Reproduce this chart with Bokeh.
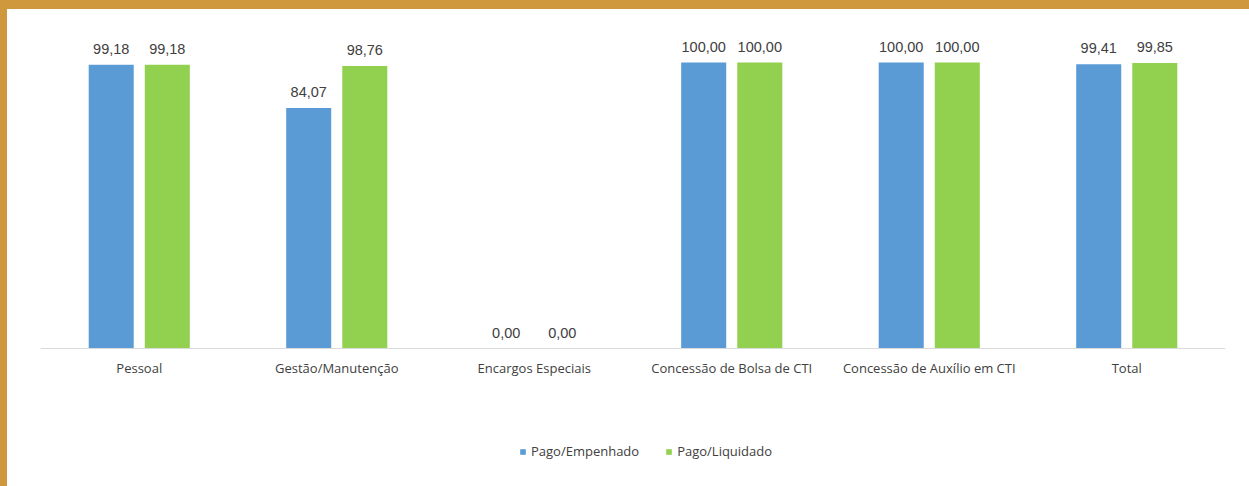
from bokeh.plotting import figure
from bokeh.models import (ColumnDataSource, FactorRange, Legend, LegendItem,
                          GlobalInlineStyleSheet, Span)
from bokeh.transform import dodge
from bokeh.core.properties import value
from bokeh.embed import file_html
from bokeh.resources import INLINE

categories = ["Pessoal", "Gestão/Manutenção", "Encargos Especiais",
              "Concessão de Bolsa de CTI", "Concessão de Auxílio em CTI", "Total"]
pago_empenhado = [99.18, 84.07, 0.00, 100.00, 100.00, 99.41]
pago_liquidado = [99.18, 98.76, 0.00, 100.00, 100.00, 99.85]
series_names = ["Pago/Empenhado", "Pago/Liquidado"]

def fmt(v):
    return f"{v:.2f}".replace(".", ",")

src = ColumnDataSource(dict(
    cat=categories,
    zero=[0] * len(categories),
    emp=pago_empenhado,
    liq=pago_liquidado,
    emp_lbl=[fmt(v) for v in pago_empenhado],
    liq_lbl=[fmt(v) for v in pago_liquidado],
))

BLUE = "#5B9BD5"
GREEN = "#92D050"
TXT = "#404040"
FRAME = "#CF983D"

# the frame extends below the zero line so the category labels and the legend live inside it
p = figure(width=1242, height=477, x_range=FactorRange(*categories), y_range=(-48.25, 110.14),
           output_backend="svg", toolbar_location=None,
           min_border_left=33, min_border_right=24, min_border_top=24, min_border_bottom=0)
p.stylesheets = [GlobalInlineStyleSheet(css=f"""
html, body {{ background: {FRAME} !important; margin: 0 !important; }}
body {{ padding: 9px 0 0 7px !important; box-sizing: border-box !important; overflow: hidden; }}
""")]
p.styles = {"background-color": "white"}
p.background_fill_color = "white"
p.border_fill_color = "white"
p.outline_line_color = None
p.xgrid.grid_line_color = None
p.ygrid.grid_line_color = None
p.xaxis.visible = False
p.yaxis.visible = False

# category axis line at zero
p.add_layout(Span(location=0, dimension="width", line_color="#D9D9D9", line_width=1))

off = 0.142
w = 0.228
r1 = p.vbar(x=dodge("cat", -off, range=p.x_range), top="emp", width=w, source=src,
            fill_color=BLUE, line_color=None)
r2 = p.vbar(x=dodge("cat", off, range=p.x_range), top="liq", width=w, source=src,
            fill_color=GREEN, line_color=None)

# category labels (axis tick labels)
p.text(x="cat", y="zero", text="cat", source=src, text_align="center",
       text_baseline="alphabetic", y_offset=19,
       text_font=value("Open Sans"), text_font_size="13px", text_color=TXT)

# value labels
for xcol, ycol, lcol in ((-off, "emp", "emp_lbl"), (off, "liq", "liq_lbl")):
    p.text(x=dodge("cat", xcol, range=p.x_range), y=ycol, text=lcol, source=src,
           text_align="center", text_baseline="alphabetic", y_offset=-16,
           text_font=value("Liberation Sans"), text_font_size="14.5px", text_color=TXT)

legend = Legend(items=[LegendItem(label=series_names[0], renderers=[r1]),
                       LegendItem(label=series_names[1], renderers=[r2])],
                orientation="horizontal", location=(479, 26),
                glyph_width=7, glyph_height=7, label_height=14, label_standoff=5,
                spacing=26, padding=0, margin=0,
                label_text_font="Open Sans", label_text_font_size="13px",
                label_text_color=TXT, border_line_color=None, background_fill_alpha=0)
p.add_layout(legend, "center")

open("out.html", "w").write(file_html(p, INLINE))
